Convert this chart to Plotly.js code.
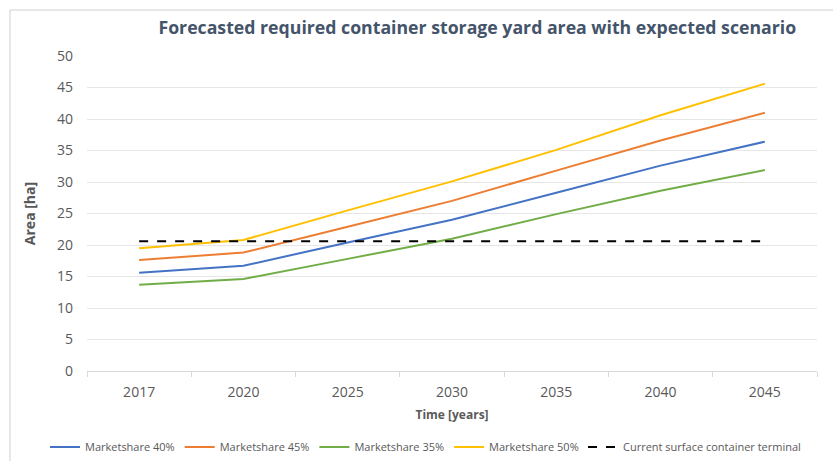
<!DOCTYPE html>
<html><head><meta charset="utf-8">
<script src="https://cdn.plot.ly/plotly-3.0.1.min.js"></script>
<style>html,body{margin:0;padding:0;background:#fff}</style>
</head><body>
<div id="chart" style="width:833px;height:461px"></div>
<script>
const years = ['2017','2020','2025','2030','2035','2040','2045'];
const share40 = [15.6, 16.7, 20.4, 24.0, 28.3, 32.6, 36.4];
const share45 = [17.6, 18.8, 22.9, 27.0, 31.8, 36.6, 41.0];
const share35 = [13.7, 14.6, 17.8, 21.0, 24.9, 28.6, 31.9];
const share50 = [19.5, 20.8, 25.5, 30.1, 35.1, 40.6, 45.6];
const current = [20.6, 20.6, 20.6, 20.6, 20.6, 20.6, 20.6];

const font = "Open Sans, Lato, sans-serif";
const mk = (name, y, color, dash, legend) => ({
  x: years, y: y, name: name, type: 'scatter', mode: 'lines',
  line: {color: color, width: 2, dash: dash || 'solid'},
  legend: legend || 'legend'
});
const data = [
  mk('Marketshare 40%', share40, '#4472C4'),
  mk('Marketshare 45%', share45, '#ED7D31'),
  mk('Marketshare 35%', share35, '#70AD47'),
  mk('Marketshare 50%', share50, '#FFC000'),
  mk('Current surface container terminal', current, '#000000', 'dash', 'legend2')
];
const legendBase = {orientation: 'h', xref: 'container', xanchor: 'left',
  yref: 'container', y: 1 - 447 / 461, yanchor: 'middle', bgcolor: 'rgba(0,0,0,0)',
  font: {size: 11, color: '#595959'}, itemwidth: 30, tracegroupgap: 0};
const layout = {
  width: 833, height: 461,
  margin: {l: 87, r: 16, t: 56, b: 90},
  paper_bgcolor: '#fff', plot_bgcolor: '#fff',
  font: {family: font, color: '#595959'},
  title: {text: '<b>Forecasted required container storage yard area with expected scenario</b>',
    font: {family: font, size: 17.7, color: '#44546A'},
    xref: 'container', x: 0.573, xanchor: 'center', yref: 'container', y: 0.94, yanchor: 'middle'},
  xaxis: {type: 'category', range: [-0.5, 6.5], showgrid: false, zeroline: false,
    showline: true, linecolor: '#D9D9D9', linewidth: 1,
    ticks: 'outside', tickson: 'boundaries', ticklen: 5, tickcolor: '#D9D9D9',
    ticklabelstandoff: 8,
    tickfont: {size: 14, color: '#595959'},
    title: {text: '<b>Time [years]</b>', font: {size: 12, color: '#595959'}, standoff: 10}},
  yaxis: {range: [0, 50], dtick: 5, showgrid: true, gridcolor: '#E6E6E6', zeroline: false,
    showline: false, ticks: '', ticklabelstandoff: 13, tickfont: {size: 14, color: '#595959'},
    title: {text: '<b>Area [ha]</b>', font: {size: 14, color: '#595959'}, standoff: 18}},
  legend: Object.assign({}, legendBase, {x: 45 / 833}),
  legend2: Object.assign({}, legendBase, {x: 583 / 833}),
  showlegend: true,
  shapes: [
    {type: 'line', xref: 'paper', yref: 'paper', x0: -0.1055, x1: 1.03, y0: 1.1460, y1: 1.1460,
      line: {color: '#D0D0D0', width: 1}},
    {type: 'line', xref: 'paper', yref: 'paper', x0: -0.1055, x1: -0.1055, y0: 1.1460, y1: -0.3,
      line: {color: '#D0D0D0', width: 1}}
  ]
};
Plotly.newPlot('chart', data, layout, {displayModeBar: false, staticPlot: true});
</script>
</body></html>
